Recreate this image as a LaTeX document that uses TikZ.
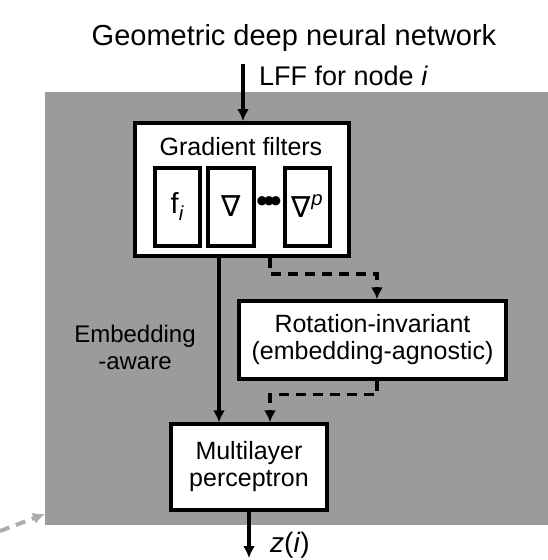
\documentclass[tikz,border=0pt]{standalone}
\usepackage{fontspec}
\setmainfont{Liberation Sans}
\newfontfamily\nablafont{DejaVu Sans}
\usepackage{xcolor}
\usetikzlibrary{arrows.meta}
\definecolor{bggray}{RGB}{155,155,155}
\definecolor{linkgray}{RGB}{172,172,172}

\begin{document}
\begin{tikzpicture}[x=1pt, y=-1pt,
    mainbox/.style={rectangle, draw, fill=white, inner sep=0pt, line width=3.3pt, align=center, font=\fontsize{25}{27}\selectfont},
    filterbox/.style={rectangle, draw, fill=white, inner sep=0pt, line width=4pt, minimum width=45pt, minimum height=78pt, font=\fontsize{29}{30}\selectfont},
    txt/.style={inner sep=0pt, align=center, font=\fontsize{25}{27}\selectfont},
    flow/.style={-{Latex[length=12pt,width=12pt]}, line width=3.5pt},
    dashflow/.style={flow, dash pattern=on 10pt off 7pt}]
    \useasboundingbox (0,0) rectangle (548,560);
    \node [rectangle, fill=bggray, inner sep=0pt, minimum width=503pt, minimum height=433pt] (frame) at (296.5,308.5) {};

    \node [txt, anchor=base, font=\fontsize{29}{32}\selectfont] (title) at (294,45) {Geometric deep neural network};
    \node [txt, anchor=base west, font=\fontsize{27}{30}\selectfont] (lff) at (259,85) {LFF for node \textit{i}};

    \node [rectangle, draw, fill=white, line width=4pt, minimum width=214pt, minimum height=133pt] (gradient) at (242,189.5) {};
    \node [txt, anchor=base] (gradlabel) at (241,155) {Gradient filters};
    \node [filterbox] (fi) at (177.5,206.5) {f\textsubscript{\textit{i}}};
    \node [filterbox, minimum width=46pt] (nabla) at (231,206.5) {\nablafont ∇};
    \node [filterbox] (nablap) at (307.5,206.5) {{\nablafont ∇}\raisebox{3pt}{\textsuperscript{\textit{p}}}};
    \node [txt, font=\fontsize{34}{34}\selectfont] (dots) at (269,205) {\textbullet\kern-5pt\textbullet\kern-5pt\textbullet};

    \node [mainbox, minimum width=267pt, minimum height=78pt] (rotation) at (372.5,340) {Rotation-invariant\\(embedding-agnostic)};
    \node [txt, font=\fontsize{24}{27}\selectfont] (embedding) at (135,347) {Embedding\\-aware};
    \node [mainbox, minimum width=156pt, minimum height=86pt] (mlp) at (249,467) {Multilayer\\perceptron};
    \node [txt, anchor=base west, font=\fontsize{28}{30}\selectfont] (zi) at (270,552) {\textit{z}(\textit{i})};

    \coordinate (lffin) at (243,64);
    \coordinate (tapA) at (219,0);
    \coordinate (tapB) at (270,0);
    \coordinate (tapC) at (377,0);
    \coordinate (zout) at (249,558);
    \coordinate (outside) at (0,531);
    \coordinate (frametip) at (45,514);

    \draw [flow] (lffin) -- (lffin |- gradient.north);
    \draw [flow] (gradient.south -| tapA) -- (mlp.north -| tapA);
    \draw [dashflow] (gradient.south -| tapB) -- ++(0,16) -| (rotation.north -| tapC);
    \draw [dashflow] (rotation.south -| tapC) -- ++(0,14) -| (mlp.north -| tapB);
    \draw [flow] (mlp) -- (zout);
    \draw [dashflow, linkgray, line width=4pt] (outside) -- (frametip);
\end{tikzpicture}
\end{document}
